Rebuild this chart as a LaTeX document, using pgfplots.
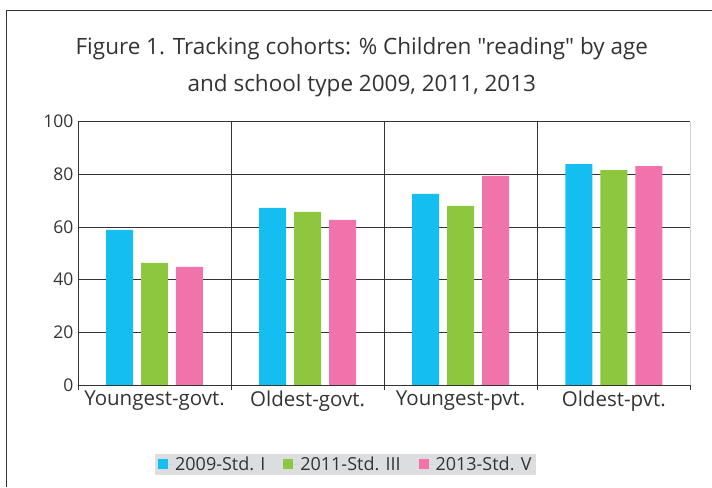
\documentclass[border=0pt]{standalone}
\usepackage{fontspec}
\setmainfont{Open Sans}[Ligatures=TeXOff]
\usepackage{pgfplots}
\pgfplotsset{compat=1.18}
\definecolor{cblue}{HTML}{15BEF0}
\definecolor{cgreen}{HTML}{8DC63F}
\definecolor{cpink}{HTML}{F173AC}
\definecolor{lgbg}{HTML}{DCDDDF}
\definecolor{txt}{HTML}{333333}
\begin{document}
\begin{tikzpicture}[x=1bp,y=1bp]
\path (0,0) rectangle (712,487);
\draw[txt, line width=0.8bp] (6,0) -- (6,477) -- (712,477);
\node[align=center, text=txt, font=\fontsize{22.5bp}{37bp}\selectfont] at (362,419.5)
  {Figure 1. Tracking cohorts: \% Children "reading" by age\\and school type 2009, 2011, 2013};
\begin{axis}[
  at={(78bp,101.7bp)}, anchor=south west,
  scale only axis, width=612.7bp, height=263.6bp,
  ymin=0, ymax=100, ytick={0,20,40,60,80,100},
  /pgf/number format/assume math mode=true,
  xmin=-0.5, xmax=3.5,
  xtick={0,1,2,3},
  xticklabels={Youngest-govt., Oldest-govt., Youngest-pvt., Oldest-pvt.},
  minor xtick={0.5,1.5,2.5},
  extra x ticks={-0.5,3.5}, extra x tick labels={},
  extra x tick style={grid=none, major tick length=5bp, tick align=outside},
  xminorgrids, ymajorgrids,
  grid style={draw=txt, line width=0.8bp},
  minor grid style={draw=txt, line width=0.8bp},
  minor tick length=5bp,
  major tick length=0pt,
  x tick style={draw=txt, line width=0.8bp},
  y tick style={draw=none},
  tick align=outside,
  axis line style={draw=none},
  axis x line*=bottom,
  every tick label/.style={text=txt},
  yticklabel style={font=\fontsize{17.5bp}{17.5bp}\selectfont, xshift=-1bp},
  xticklabel style={font=\fontsize{20.5bp}{20.5bp}\selectfont, yshift=-2bp},
  ybar=8bp, bar width=27bp,
  legend style={at={(0.4374,-0.3005)}, anchor=center, fill=lgbg, draw=none,
    font=\fontsize{18bp}{18bp}\selectfont, text=txt, legend columns=3,
    /tikz/every even column/.append style={column sep=16bp},
    inner xsep=3bp, inner ysep=1bp},
  legend image code/.code={\fill[#1] (0bp,-5bp) rectangle (10bp,5bp); \path (0bp,0bp) -- (15bp,0bp);},
]
\addplot[fill=cblue, draw=none] coordinates {(0,58.9) (1,67.3) (2,72.6) (3,83.9)};
\addplot[fill=cgreen, draw=none] coordinates {(0,46.4) (1,65.7) (2,68.0) (3,81.6)};
\addplot[fill=cpink, draw=none] coordinates {(0,44.9) (1,62.7) (2,79.4) (3,83.1)};
\legend{2009-Std. I, 2011-Std. III, 2013-Std. V}
\draw[txt, line width=0.8bp] (rel axis cs:0,0) -- (rel axis cs:0,1);
\draw[txt, line width=0.8bp] (rel axis cs:0,0) -- (rel axis cs:1,0);
\draw[gray, line width=0.8bp] (rel axis cs:1,0) -- (rel axis cs:1,1);
\end{axis}
\end{tikzpicture}
\end{document}
